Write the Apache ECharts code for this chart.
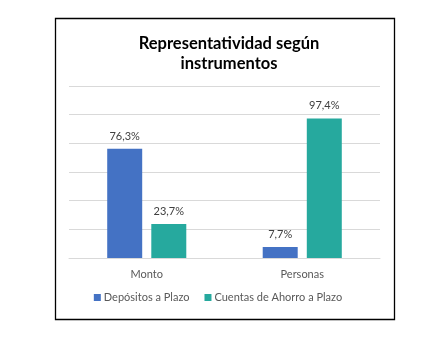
<!DOCTYPE html>
<html><head><meta charset="utf-8">
<script src="https://cdn.jsdelivr.net/npm/echarts@6/dist/echarts.min.js"></script>
<style>html,body{margin:0;padding:0;background:#fff}#c{width:436px;height:352px}</style>
</head><body><div id="c"></div>
<script>
const categories = ['Monto', 'Personas'];
const seriesNames = ['Depósitos a Plazo', 'Cuentas de Ahorro a Plazo'];
const depositos = [76.3, 7.7];
const cuentas = [23.7, 97.4];
const titleText = 'Representatividad según\ninstrumentos';

const font = 'Lato, "Open Sans", "Liberation Sans", sans-serif';
const chart = echarts.init(document.getElementById('c'), null, {renderer: 'canvas'});
const lbl = {show: true, position: 'top', distance: 7, color: '#404040', fontSize: 11, fontFamily: font,
  formatter: p => p.value.toFixed(1).replace('.', ',') + '%'};
chart.setOption({
  animation: false,
  backgroundColor: '#fff',
  graphic: [{type: 'rect', shape: {x: 55.5, y: 18.5, width: 339, height: 301}, style: {fill: 'none', stroke: '#000', lineWidth: 1.3}, z: 100}],
  title: {text: titleText, left: 224, textAlign: 'center', top: 29,
    textStyle: {fontSize: 16.5, fontWeight: 'bold', color: '#000', fontFamily: font, lineHeight: 20}},
  grid: {left: 69, right: 56, top: 86, bottom: 94},
  legend: {bottom: 44, left: 'center', itemWidth: 7, itemHeight: 7, itemGap: 15, icon: 'rect',
    textStyle: {fontSize: 11, color: '#595959', fontFamily: font, padding: [0, 0, 0, -2]}},
  xAxis: {type: 'category', data: categories, axisTick: {show: false},
    axisLine: {lineStyle: {color: '#d9d9d9'}},
    axisLabel: {color: '#595959', fontSize: 11, fontFamily: font, margin: 11}},
  yAxis: {type: 'value', min: 0, max: 120, interval: 20, axisLabel: {show: false},
    splitLine: {lineStyle: {color: '#d9d9d9'}}},
  series: [
    {name: seriesNames[0], type: 'bar', data: depositos, barWidth: '22.5%', barGap: '26%', itemStyle: {color: '#4472c4'}, label: lbl},
    {name: seriesNames[1], type: 'bar', data: cuentas, barWidth: '22.5%', itemStyle: {color: '#26a99e'}, label: lbl}
  ]
});
</script></body></html>
